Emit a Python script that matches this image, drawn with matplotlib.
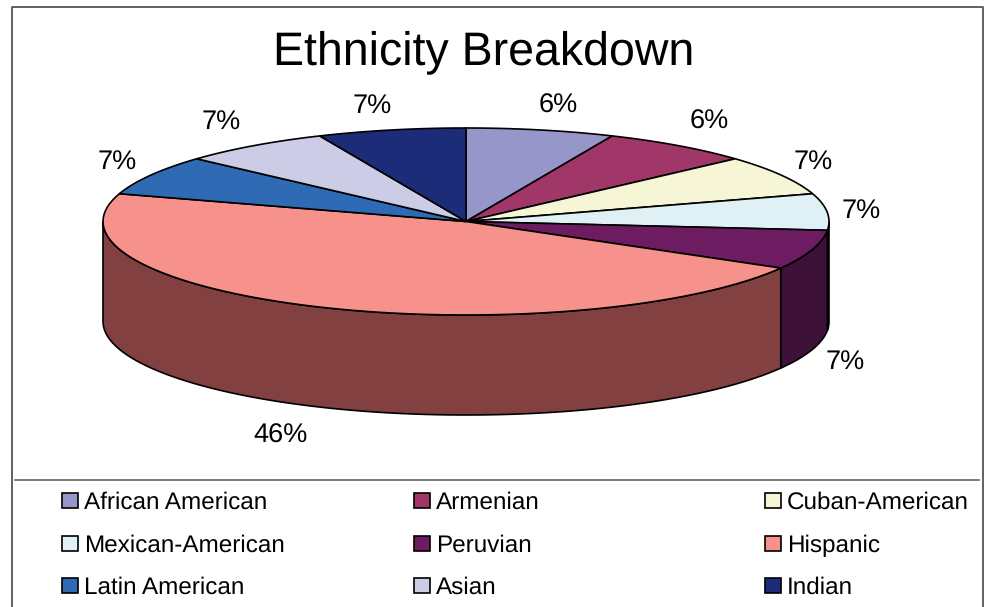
#!/usr/bin/env python
"""Ethnicity breakdown as an Excel-style tilted pie, drawn on a pixel canvas."""
import numpy as np
import matplotlib
matplotlib.use("Agg")
import matplotlib.pyplot as plt
from matplotlib.patches import Polygon, Rectangle

plt.rcParams["font.family"] = ["Liberation Sans", "DejaVu Sans"]
plt.rcParams["text.hinting"] = "none"

categories = ["African American", "Armenian", "Cuban-American",
              "Mexican-American", "Peruvian", "Hispanic",
              "Latin American", "Asian", "Indian"]
# shares read from the slice edges; printed labels are the chart's own
values = [6.6, 6.7, 6.9, 6.3, 6.8, 46.5, 6.9, 6.7, 6.6]
pct_labels = ["6%", "6%", "7%", "7%", "7%", "46%", "7%", "7%", "7%"]

colors = ["#9696CA", "#A03768", "#F6F6D6", "#DFF1F5", "#6E1C62",
          "#F6918C", "#2E6BB4", "#CCCCE6", "#1C2C78"]
wall_colors = ["#4B4B65", "#501B34", "#7B7B6B", "#141414", "#3E1238",
               "#824040", "#17365A", "#666673", "#0E163C"]

CX, CY, RX, RY, DEPTH = 466, 221.5, 363, 93.5, 100
LABEL_XY = [(558, 106), (709, 122), (813, 162), (861, 211), (845, 362),
            (281, 436), (117, 162), (221, 122), (372, 106)]
LEGEND_X = [62, 414, 765]
LEGEND_Y = [501, 544, 586]


def rim(a, b, n=80, drop=0):
    # a, b in degrees clockwise from 12 o'clock
    t = np.radians(np.linspace(a, b, n))
    return np.column_stack([CX + RX * np.sin(t), CY - RY * np.cos(t) + drop])


fig = plt.figure(figsize=(9.92, 6.07), dpi=100, facecolor="white")
ax = fig.add_axes([0, 0, 1, 1])
ax.set_xlim(0, 992)
ax.set_ylim(607, 0)
ax.axis("off")

edges = np.concatenate([[0], np.cumsum(values)]) / sum(values) * 360

# side wall, front half of the rim only
for i in np.argsort(-np.abs(edges[:-1] + edges[1:] - 360)):
    a, b = max(edges[i], 90), min(edges[i + 1], 270)
    if b <= a:
        continue
    pts = np.vstack([rim(a, b), rim(b, a, drop=DEPTH)])
    ax.add_patch(Polygon(pts, closed=True, fc=wall_colors[i], ec="black", lw=1.2))

# top face
for i in range(len(values)):
    pts = np.vstack([[CX, CY], rim(edges[i], edges[i + 1])])
    ax.add_patch(Polygon(pts, closed=True, fc=colors[i], ec="black", lw=1.2))

for lab, (x, y) in zip(pct_labels, LABEL_XY):
    ax.text(x, y, lab, fontsize=19.5, ha="center", va="center", color="black")

ax.text(484, 52, "Ethnicity Breakdown", fontsize=33.5, ha="center", va="center",
        color="black")

# chart frame, cut off at the bottom of the page
ax.plot([12, 12, 983, 983], [607, 7, 7, 607], color="#555555", lw=1.3)
ax.plot([15, 979], [479.5, 479.5], color="#666666", lw=1.2)

# legend, filled row by row
for i, name in enumerate(categories):
    x, y = LEGEND_X[i % 3], LEGEND_Y[i // 3]
    ax.add_patch(Rectangle((x, y - 8), 16, 15, fc=colors[i], ec="black", lw=1.2))
    ax.text(x + 22, y + 2, name, fontsize=17.5, ha="left", va="center", color="black")

fig.savefig("out.png", dpi=100)
